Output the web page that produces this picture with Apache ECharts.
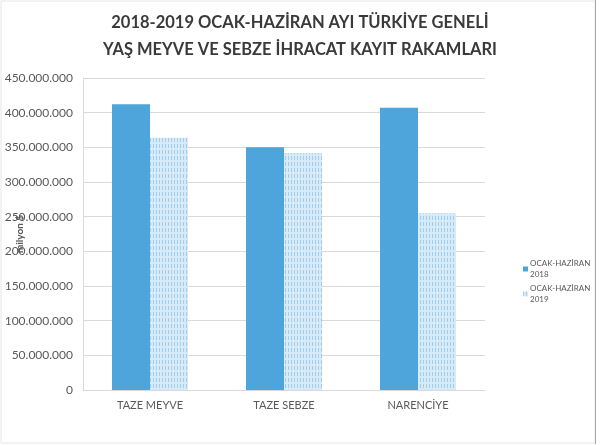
<!DOCTYPE html>
<html>
<head>
    <meta charset="utf-8">
    <title>ECharts</title>
    <script src="https://cdn.jsdelivr.net/npm/echarts@6/dist/echarts.min.js"></script>
    <style>
        html, body { margin: 0; padding: 0; background: #fff; }
    </style>
</head>
<body>
<div id="main" style="width: 600px;height:445px;"></div>
<script type="text/javascript">
    // veriler
    var categories = ['TAZE MEYVE', 'TAZE SEBZE', 'NARENCİYE'];
    var seriesNames = ['OCAK-HAZİRAN 2018', 'OCAK-HAZİRAN 2019'];
    var values2018 = [412000000, 350000000, 407000000];
    var values2019 = [364000000, 342000000, 255000000];

    var myChart = echarts.init(document.getElementById('main'));

    function fmt(v) {
        return String(v).replace(/\B(?=(\d{3})+(?!\d))/g, '.');
    }

    var option = {
        backgroundColor: '#fff',
        animation: false,
        textStyle: { fontFamily: 'Lato, "Open Sans", sans-serif' },
        title: {
            text: '2018-2019 OCAK-HAZİRAN AYI TÜRKİYE GENELİ\nYAŞ MEYVE VE SEBZE İHRACAT KAYIT RAKAMLARI',
            left: 'center',
            top: 4,
            textStyle: {
                fontSize: 16.5,
                fontWeight: 'bold',
                color: '#3a3a3a',
                lineHeight: 27,
                fontFamily: 'Lato, sans-serif'
            }
        },
        legend: {
            orient: 'vertical',
            left: 518,
            top: 253,
            itemWidth: 5,
            itemHeight: 5,
            itemGap: 3,
            icon: 'rect',
            data: seriesNames,
            formatter: function (name) {
                return name.replace(' ', '\n');
            },
            textStyle: {
                fontSize: 8,
                color: '#595959',
                lineHeight: 11,
                padding: [0, 0, 0, -3]
            }
        },
        grid: {
            left: 83,
            right: 115,
            top: 78,
            bottom: 55,
            outerBoundsMode: 'none',
            containLabel: false
        },
        xAxis: {
            type: 'category',
            data: categories,
            axisTick: { show: false },
            axisLine: { lineStyle: { color: '#d9d9d9' } },
            axisLabel: {
                color: '#595959',
                fontSize: 11,
                margin: 10
            }
        },
        yAxis: {
            type: 'value',
            min: 0,
            max: 450000000,
            interval: 50000000,
            name: 'milyon $',
            nameLocation: 'middle',
            nameGap: 58,
            nameMoveOverlap: false,
            nameTextStyle: {
                color: '#595959',
                fontSize: 10,
                fontWeight: 'bold'
            },
            axisLine: { show: true, lineStyle: { color: '#d9d9d9' } },
            axisLabel: {
                color: '#595959',
                fontSize: 12,
                margin: 10,
                formatter: fmt
            },
            splitLine: { lineStyle: { color: '#d9d9d9' } }
        },
        series: [{
            name: seriesNames[0],
            type: 'bar',
            data: values2018,
            barWidth: 38,
            barGap: '0%',
            itemStyle: { color: '#4ea5db' }
        }, {
            name: seriesNames[1],
            type: 'bar',
            data: values2019,
            barWidth: 38,
            itemStyle: {
                color: '#d6eaf8',
                decal: {
                    symbol: 'rect',
                    color: '#a3cdec',
                    dashArrayX: [[1, 2]],
                    dashArrayY: [4, 2],
                    rotation: 0,
                    symbolSize: 1
                }
            }
        }],
        graphic: [{
            type: 'rect',
            shape: { x: 1, y: 1, width: 594, height: 442 },
            style: { fill: 'none', stroke: '#e6e6e6', lineWidth: 1 }
        }, {
            type: 'line',
            shape: { x1: 595.5, y1: 0, x2: 595.5, y2: 444 },
            style: { stroke: '#a6a6a6', lineWidth: 1 }
        }]
    };

    myChart.setOption(option);
</script>
</body>
</html>
